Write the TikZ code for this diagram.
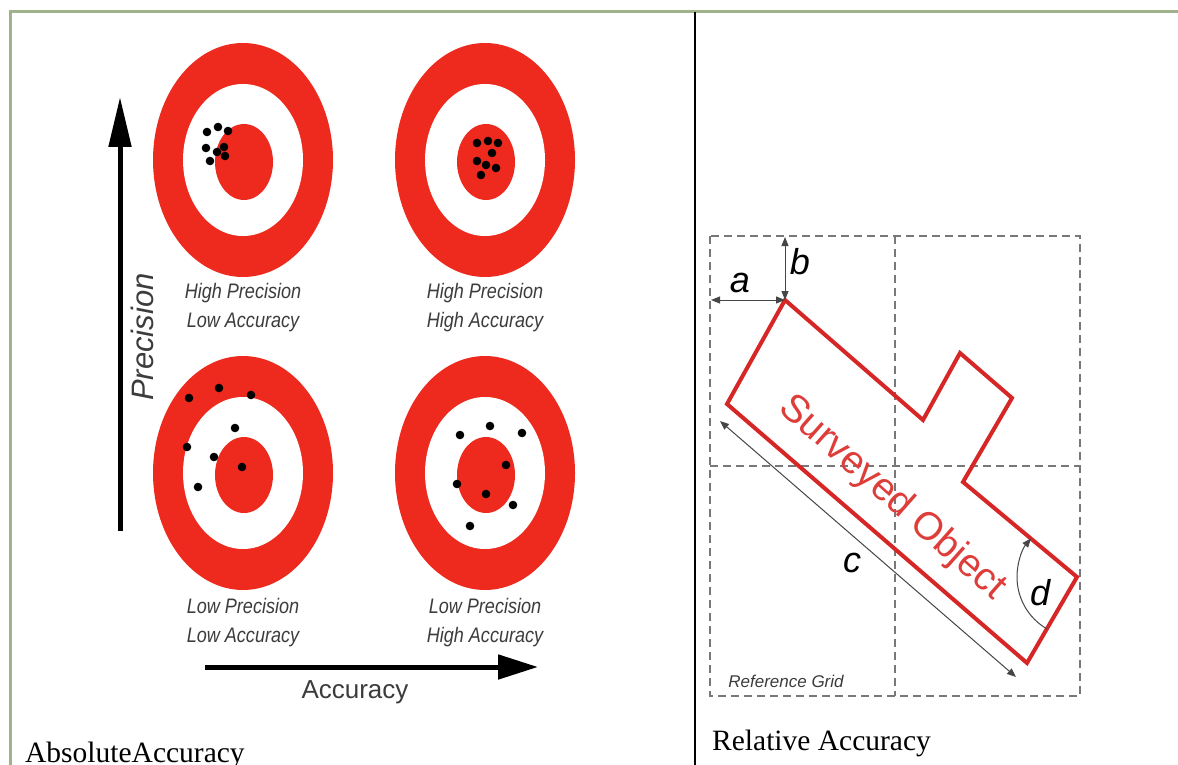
\documentclass[tikz,border=0pt]{standalone}
\usepackage{fontspec}
\setmainfont{Liberation Serif}
\setsansfont{Liberation Sans}
\usetikzlibrary{arrows.meta,calc}
\definecolor{tred}{RGB}{238,42,30}
\definecolor{ored}{RGB}{214,38,38}
\definecolor{sored}{RGB}{222,62,58}
\definecolor{framegreen}{RGB}{160,178,140}
\definecolor{labgray}{RGB}{60,60,60}
\definecolor{gridgray}{RGB}{120,120,120}
\definecolor{dimgray}{RGB}{70,70,70}
\newcommand\fsz[1]{\fontsize{#1}{#1}\selectfont}
\begin{document}
\begin{tikzpicture}[x=1pt,y=-1pt,
  frameline/.style={framegreen,line width=3},
  dot/.style={fill=black},
  tlabel/.style={labgray,font=\sffamily\itshape\fontsize{21}{29}\selectfont,align=center,inner sep=0,xscale=0.86},
  bigarrow/.style={black,line width=5,-{Triangle[length=40,width=24]}},
  griddash/.style={gridgray,line width=1.3,dash pattern=on 8pt off 5pt},
  objline/.style={ored,line width=4,line join=miter},
  dimarrow/.style={dimgray,line width=1,{Triangle[length=9,width=7]}-{Triangle[length=9,width=7]}},
  dimletter/.style={black,font=\sffamily\itshape\fsz{36},inner sep=0},
  caption/.style={black,font=\rmfamily\fsz{29.5},inner sep=0}
]
\useasboundingbox (0,0) rectangle (1178,765);
\fill[white] (0,0) rectangle (1178,765);

% frame
\draw[frameline] (10,765) -- (10,12) -- (1178,12);
\draw[black,line width=1.6] (695,12) -- (695,765);

% targets
\foreach \cx/\cy in {243/160,485/160,243/473,485/473}{
  \fill[tred] (\cx,\cy) ellipse [x radius=90, y radius=117];
  \fill[white] (\cx,\cy) ellipse [x radius=60, y radius=76];
  \fill[tred] (\cx+1,\cy+2) ellipse [x radius=29, y radius=38];
}

% dots
\foreach \p in {(207,132),(218,127),(228,131),(206,148),(217,152),(224,147),(210,161),(225,156)}
  \fill[dot] \p circle[radius=4.3];
\foreach \p in {(477,143),(488,141),(498,143),(477,161),(486,165),(496,168),(481,175),(492,153)}
  \fill[dot] \p circle[radius=4.3];
\foreach \p in {(189,398),(219,388),(251,395),(235,428),(187,447),(214,457),(242,467),(198,487)}
  \fill[dot] \p circle[radius=4.3];
\foreach \p in {(460,435),(490,426),(522,433),(506,465),(457,484),(486,494),(513,505),(470,526)}
  \fill[dot] \p circle[radius=4.3];

% target labels
\node[tlabel] (l1) at (243,308) {High Precision\\Low Accuracy};
\node[tlabel] (l2) at (485,308) {High Precision\\High Accuracy};
\node[tlabel] (l3) at (243,623) {Low Precision\\Low Accuracy};
\node[tlabel] (l4) at (485,623) {Low Precision\\High Accuracy};

% axes
\coordinate (pb) at (120,531);
\coordinate (pt) at (120,97);
\draw[bigarrow,-{Triangle[length=50,width=22]}] (pb) -- (pt);
\node[labgray,font=\sffamily\itshape\fsz{31},rotate=90,inner sep=0] (prec) at (142,337) {Precision};
\coordinate (al) at (205,667);
\coordinate (ar) at (538,667);
\draw[bigarrow] (al) -- (ar);
\node[labgray,font=\sffamily\fsz{26},inner sep=0] (acc) at (355,692) {Accuracy};

% captions
\node[caption,anchor=base west] (cap1) at (25,762) {AbsoluteAccuracy};
\node[caption,anchor=base west] (cap2) at (712,750) {Relative Accuracy};

% reference grid
\draw[griddash] (710,236) rectangle (1080,696);
\draw[griddash] (895,236) -- (895,696);
\draw[griddash] (710,466) -- (1080,466);
\node[labgray,font=\sffamily\itshape\fsz{17},inner sep=0] (rg) at (786,681) {Reference Grid};

% surveyed object
\coordinate (P1) at (785,300);
\coordinate (P2) at (727,404);
\coordinate (P3) at (1027,663);
\coordinate (P4) at (1077,577);
\coordinate (P5) at (963,482);
\coordinate (P6) at (1012,398);
\coordinate (P7) at (960,353);
\coordinate (P8) at (923,420);
\draw[objline] (P1) -- (P2) -- (P3) -- (P4) -- (P5) -- (P6) -- (P7) -- (P8) -- cycle;
\node[sored,font=\sffamily\fsz{39},rotate=-41.5,inner sep=0] (so) at (892,498) {Surveyed Object};

% dimensions
\coordinate (ga) at (711,300);
\coordinate (gb) at (785,237);
\draw[dimarrow] (ga) -- (P1);
\draw[dimarrow] (gb) -- (P1);
\coordinate (c1) at (720,421);
\coordinate (c2) at (1016,677);
\draw[dimarrow] (c1) -- (c2);
\draw[dimgray,line width=1,-{Triangle[length=9,width=7]}] ($(P4)+(120:60)$) arc[start angle=120, end angle=220, radius=60];

\node[dimletter] (la) at (740,283) {a};
\node[dimletter] (lb) at (800,262) {b};
\node[dimletter] (lc) at (852,563) {c};
\node[dimletter] (ld) at (1040,593) {d};
\end{tikzpicture}
\end{document}
